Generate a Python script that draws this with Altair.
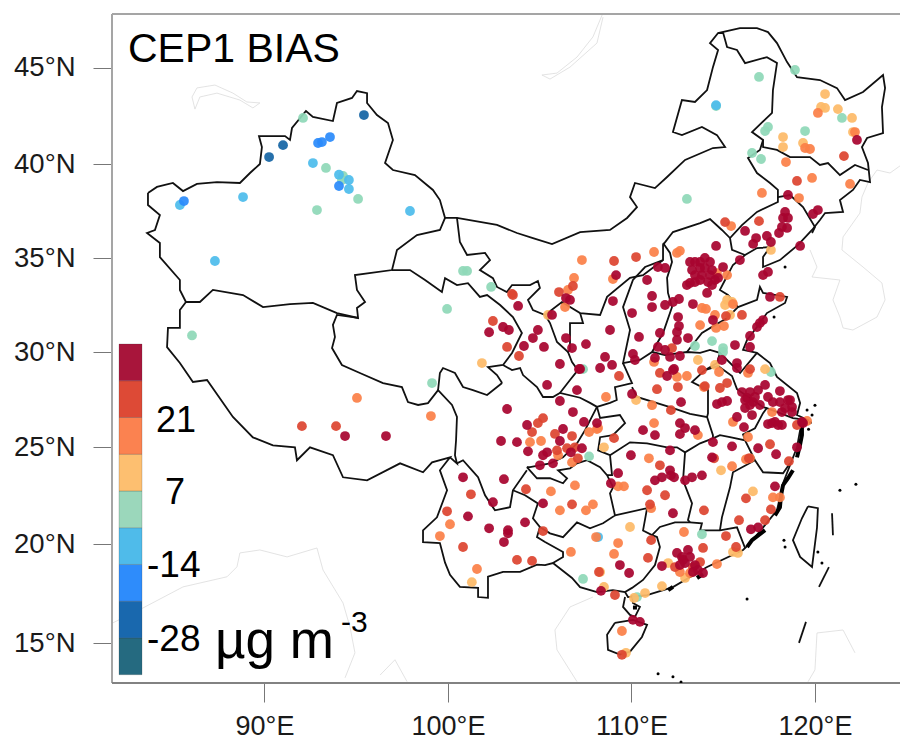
import altair as alt
import pandas as pd

FONT = "Liberation Sans"

navy = [(95.42,42.54),(91.01,40.98),(90.25,40.36)]
blue = [(93.57,41.4),(92.92,41.09),(93.13,41.14),(94.06,38.83),(85.61,38.03)]
sky = [(92.64,40.05),(94.06,39.43),(94.6,39.15),(94.6,38.67),(97.93,37.5),(85.39,37.82),(88.83,38.24),(87.3,34.84),(108.18,20.36),(114.61,43.05)]
green = [(92.1,42.39),(93.35,39.79),(94.28,39.37),(94.22,39.15),(95.1,38.14),(92.86,37.55),(100.82,34.31),(101.04,34.31),(102.35,33.46),(99.95,32.29),(86.05,30.88),(99.13,28.37),(107.69,24.53),(107.36,18.24),(113.84,20.5),(107.36,29.1),(110.3,17.33),(116.95,44.52),(118.91,44.88),(121.47,42.39),(117.44,41.92),(117.28,41.71),(119.46,41.71),(116.57,40.57),(117.06,40.26),(114.61,43.01),(113.02,38.14),(114.39,30.58),(113.46,30.32),(114.99,30.21),(114.99,30.0),(117.6,28.95)]
light = [(101.85,29.42),(108.5,25.0),(101.3,18.08),(109.92,20.88),(108.29,18.59),(108.5,17.84),(110.14,17.28),(110.74,17.53),(111.66,17.88),(109.7,14.52),(114.88,23.81),(116.62,22.72),(115.53,19.6),(115.8,19.55),(112.0,19.04),(112.92,18.29),(120.55,43.63),(120.33,42.96),(120.55,42.91),(121.25,42.85),(122.02,42.39),(122.07,41.66),(118.26,41.4),(118.26,40.88),(119.35,41.09),(117.6,35.43),(115.21,32.77),(115.1,32.5),(115.48,32.66),(115.37,31.97),(113.62,29.58),(114.55,29.32),(117.28,29.1),(110.25,27.48),(105.45,31.97)]
orange = [(95.04,27.59),(99.07,26.64),(100.11,21.02),(99.56,20.41),(101.58,18.74),(104.47,25.27),(105.07,25.33),(107.69,25.8),(108.18,26.01),(106.0,24.59),(106.76,24.22),(105.61,22.72),(106.92,23.03),(106.1,21.74),(107.52,21.74),(107.9,22.05),(106.7,19.6),(108.07,20.36),(109.27,20.05),(109.05,19.5),(109.48,15.62),(110.95,24.43),(109.27,22.98),(109.59,22.98),(111.07,21.85),(112.86,20.62),(115.48,24.02),(116.24,24.38),(116.35,25.54),(117.71,22.41),(118.09,22.41),(119.57,26.38),(112.64,18.59),(113.19,18.54),(114.66,18.99),(120.16,42.65),(122.18,41.66),(119.46,40.83),(119.73,40.78),(118.42,40.1),(119.84,39.26),(121.91,38.94),(117.11,38.46),(119.13,38.19),(115.43,36.7),(112.48,35.27),(112.64,35.38),(111.23,35.32),(107.3,34.89),(106.87,33.94),(106.54,33.3),(108.99,33.88),(106.38,32.39),(114.66,34.2),(115.21,34.09),(111.23,29.48),(112.48,28.69),(113.02,28.74),(108.61,27.64),(111.12,27.21),(111.23,26.27),(113.74,31.43),(113.84,32.34),(114.06,32.29),(114.55,31.97),(114.61,31.28),(115.04,31.38),(115.53,32.55),(114.77,28.95),(116.35,28.9),(113.95,28.16),(115.53,26.33),(117.66,26.85),(113.62,25.64),(116.46,24.43),(108.12,25.96)]
red = [(103.49,33.09),(102.45,31.65),(103.22,30.27),(103.87,29.79),(93.9,26.11),(92.04,26.11),(101.25,22.57),(99.95,21.69),(100.82,19.85),(105.18,26.53),(104.9,26.27),(104.58,25.8),(105.83,25.7),(106.76,25.59),(105.94,24.84),(106.49,24.95),(106.92,25.0),(107.08,24.43),(109.05,25.48),(104.25,22.83),(106.76,22.05),(105.18,20.67),(103.76,19.2),(104.58,19.15),(108.23,18.59),(109.1,17.43),(111.07,20.2),(110.9,19.3),(111.55,24.07),(110.85,22.78),(111.83,22.52),(111.01,22.05),(114.5,24.43),(116.4,24.43),(113.95,21.74),(116.24,22.36),(115.86,21.23),(117.6,21.79),(117.28,21.23),(117.55,25.16),(118.58,24.28),(119.02,26.17),(115.15,20.41),(113.9,19.8),(115.7,19.85),(112.37,18.84),(113.74,19.09),(113.35,18.84),(109.48,14.42),(121.58,40.41),(119.02,39.1),(116.95,36.96),(115.1,36.91),(110.25,35.05),(109.05,34.84),(106.81,33.51),(106.05,33.19),(103.54,33.03),(112.21,30.21),(109.32,28.74),(111.55,28.9),(112.53,28.16),(111.39,28.05),(112.15,26.95),(115.15,31.91),(116.02,31.97),(118.09,32.93),(113.84,29.05),(116.46,29.1),(114.0,28.21),(115.21,28.37),(114.82,28.11)]
dark = [(100.82,23.45),(102.24,20.81),(101.09,21.43),(102.45,22.16),(94.39,25.59),(96.62,25.59),(103.82,32.45),(103.0,31.33),(103.32,31.17),(102.24,31.05),(104.14,30.32),(104.63,30.74),(104.9,31.17),(105.23,30.27),(105.67,31.97),(106.43,32.87),(106.65,32.77),(106.43,30.74),(106.76,30.21),(107.52,30.42),(106.1,29.37),(107.2,29.11),(105.4,28.27),(107.03,28.0),(106.1,27.43),(103.22,27.01),(106.81,26.85),(107.41,26.33),(104.31,26.17),(108.12,26.27),(102.89,25.33),(103.76,25.27),(104.36,24.79),(106.27,25.96),(106.1,25.33),(106.7,24.74),(105.4,24.74),(105.18,24.59),(107.3,24.95),(105.01,24.07),(105.72,24.17),(103.05,23.35),(105.18,22.1),(104.2,21.12),(103.27,20.71),(103.27,20.55),(103.05,20.1),(108.88,23.14),(109.37,18.94),(109.87,18.54),(108.34,17.64),(111.66,18.89),(110.08,16.18),(110.46,16.08),(109.97,24.59),(109.27,23.66),(112.26,21.59),(111.28,23.29),(111.66,23.45),(112.1,23.81),(112.15,23.55),(112.32,23.45),(112.92,23.29),(112.1,24.84),(113.3,23.45),(113.84,23.55),(114.44,25.27),(115.48,25.05),(114.39,24.48),(117.82,22.98),(116.9,24.95),(117.88,24.64),(119.02,25.0),(119.29,26.33),(116.9,20.86),(116.51,20.76),(112.75,19.35),(113.08,19.7),(112.48,19.55),(112.92,19.04),(113.62,18.69),(113.35,18.59),(122.29,41.25),(120.16,37.55),(119.89,37.34),(118.53,38.35),(118.37,37.45),(118.26,37.13),(118.53,37.13),(118.2,36.65),(118.48,36.6),(118.04,36.33),(116.19,36.44),(116.79,36.06),(116.63,35.75),(117.38,36.17),(117.6,35.85),(119.19,35.64),(115.91,34.89),(114.61,35.64),(113.46,34.79),(114.0,35.0),(113.3,34.36),(113.74,34.47),(114.28,34.79),(113.84,34.09),(114.39,34.36),(114.17,33.72),(114.55,33.83),(114.72,33.94),(113.19,34.79),(114.99,34.52),(113.02,33.56),(113.19,33.67),(113.46,33.72),(114.12,33.14),(111.44,34.52),(111.83,34.47),(110.85,33.83),(109.16,34.09),(108.99,32.71),(111.12,32.98),(111.12,32.39),(111.83,32.5),(112.26,32.66),(112.59,32.82),(113.35,32.55),(110.03,32.07),(108.83,31.17),(110.41,30.8),(111.55,31.01),(112.54,31.86),(112.59,31.38),(112.48,31.06),(112.48,30.64),(113.08,30.74),(111.44,30.27),(111.83,30.11),(112.1,29.74),(112.64,29.79),(110.08,29.9),(110.19,29.58),(111.28,29.69),(108.56,29.74),(108.29,29.16),(108.94,29.32),(112.32,29.11),(111.94,28.74),(114.44,31.7),(115.64,30.37),(116.46,30.85),(116.46,30.27),(117.0,31.54),(117.17,31.7),(116.84,31.33),(117.55,32.93),(117.44,34.26),(117.17,34.09),(114.93,29.58),(115.75,29.42),(115.21,27.43),(114.93,27.37),(114.66,27.27),(112.26,29.05),(112.7,27.37),(110.03,27.8),(112.64,26.27),(112.92,26.01),(113.46,25.9),(112.64,25.69),(110.63,25.9),(111.28,25.64),(115.75,29.16),(116.02,27.9),(116.46,27.9),(116.9,28.0),(117.28,28.27),(116.3,27.59),(116.19,27.06),(116.57,26.69),(117.44,27.64),(117.71,27.37),(118.09,27.95),(118.09,27.37),(118.53,27.48),(118.75,27.11),(118.2,26.85),(118.75,26.85),(116.62,27.37),(115.75,26.59),(116.13,26.06),(117.44,26.22),(117.82,26.33),(118.2,26.17),(117.66,26.27),(117.99,26.17),(119.35,26.27),(107.14,29.1),(113.74,34.79),(114.0,34.47),(113.46,34.09),(114.28,34.09),(113.74,33.83),(114.39,33.56),(112.81,19.2),(112.64,18.94),(113.19,19.35),(113.46,18.94),(113.9,18.54),(116.73,27.64),(117.0,27.22),(118.37,27.06),(116.46,27.22),(116.19,27.48),(118.64,27.48)]

xinjiang = [(83.65,38.46),(84.14,38.78),(85.01,38.99),(85.56,38.56),(86.32,38.94),(87.41,39.04),(88.66,38.99),(89.21,39.52),(89.75,40.0),(89.86,40.88),(89.7,41.45),(91.12,41.45),(91.39,41.25),(91.5,41.87),(92.26,42.75),(92.64,42.44),(93.73,42.23),(93.95,43.17),(94.77,43.43),(95.04,43.79),(95.59,43.68),(95.59,43.17),(96.13,42.54),(96.73,42.13),(97.0,41.25),(96.57,40.05),(97.0,39.68),(98.2,39.41),(99.18,38.62),(99.56,38.08),(99.84,37.13),(99.56,36.49),(98.31,36.22),(97.22,35.43),(96.95,34.36),(94.93,34.09),(95.04,33.3),(95.48,32.66),(95.04,32.34),(95.1,31.81),(93.95,32.07),(92.64,32.61),(91.39,32.55),(89.92,32.39),(88.83,33.03),(87.19,33.3),(86.48,32.66),(85.72,32.66),(85.39,33.3),(85.39,33.83),(84.3,35.05),(84.3,35.8),(83.6,36.33),(84.03,36.49),(84.3,37.29),(83.65,37.82),(83.65,38.46)]
north_rim = [(99.84,37.13),(100.49,37.13),(102.67,36.76),(103.76,36.33),(104.63,36.06),(105.67,35.74),(107.2,36.38),(108.83,36.49),(109.76,37.13),(110.3,37.71),(109.92,38.24),(110.19,38.99),(111.28,38.72),(111.94,39.31),(112.92,40.21),(114.44,40.83),(115.1,40.88),(114.66,41.5),(113.84,41.92),(112.75,41.5),(112.26,41.66),(112.75,43.32),(113.46,43.22),(114.12,43.84),(114.44,45.03),(114.72,45.92),(114.28,46.28),(114.72,46.8),(115.91,47.06),(116.84,47.06),(117.44,46.85),(117.93,46.28),(118.48,45.29),(119.02,44.51),(120.27,44.36),(121.2,43.94),(121.64,43.32),(122.62,43.74),(123.71,44.62),(123.82,43.94),(123.65,42.96),(123.71,41.61),(122.84,41.35),(122.56,40.88),(122.89,40.05),(123.0,39.04),(122.45,39.15),(122.07,38.62),(121.36,38.08),(121.53,37.45),(120.55,37.39),(120.27,37.02),(119.84,36.49),(119.08,35.7),(118.09,34.89),(117.17,34.52),(117.17,35.05),(117.55,35.58),(116.84,35.53),(116.19,35.16),(115.53,34.63),(115.1,33.83),(114.82,33.3),(115.26,33.03),(115.8,32.39),(116.84,32.77),(117.0,33.46),(117.17,33.14),(118.48,32.93),(118.37,32.61),(117.38,32.07),(116.84,31.33),(116.3,30.64),(116.08,30.11),(116.84,29.95),(117.55,29.42),(117.93,28.69),(119.02,27.85),(119.19,27.32),(119.02,26.69),(119.62,26.43),(119.19,25.9),(119.02,25.0),(118.64,24.07),(118.26,23.14),(117.93,21.74),(116.46,20.03),(116.08,19.7),(114.12,18.84),(112.26,17.83),(110.85,17.43),(109.81,17.33),(109.65,17.58),(108.99,17.68),(108.12,17.58),(107.2,17.83),(106.76,18.29),(105.72,19.04),(105.29,18.94),(104.85,18.96),(103.93,18.6),(103.0,18.6),(102.18,18.35),(102.18,17.29),(101.64,17.33),(101.64,17.79),(100.65,17.84),(100.11,18.45),(99.84,19.06),(99.56,20.05),(98.64,20.1),(98.64,20.71),(99.4,21.38),(99.95,22.78),(99.56,23.81),(100.11,24.48),(99.13,24.22),(98.64,23.71),(97.39,24.17),(95.59,23.29),(94.28,23.45),(93.73,24.59),(92.48,25.0),(91.77,24.33),(91.66,25.0),(90.46,25.1),(89.37,25.52),(88.28,26.59),(86.87,28.53),(86.1,28.43),(85.39,29.42),(84.69,30.26),(84.74,31.28),(85.39,31.28),(85.39,32.23),(85.72,32.66)]
tibet_north = [(95.1,31.81),(93.95,31.97),(93.73,31.44),(93.84,30.8),(93.68,30.21),(94.22,29.32),(95.2,28.9),(96.46,28.37),(97.49,28.16),(97.82,27.37),(98.37,27.22),(98.91,27.32),(99.46,28.0),(100.22,27.22),(100.49,26.59),(100.44,25.37),(100.38,24.59),(100.49,24.17),(100.11,24.48)]
qinghai_south = [(99.46,28.0),(99.56,28.9),(99.73,29.16),(100.38,28.9),(100.82,28.16),(101.36,28.0),(102.13,27.74),(102.95,28.37)]
qinghai_north = [(96.95,34.36),(97.93,34.36),(98.75,33.83),(99.67,33.19),(99.84,33.93),(100.49,33.56),(101.09,33.66),(101.74,32.93),(102.13,33.03),(102.84,32.5),(103.54,31.86),(104.03,31.01),(103.49,29.95),(103.0,29.32),(102.18,29.21),(102.67,28.79),(102.95,28.37)]
gansu_north = [(100.49,37.13),(100.65,35.85),(101.04,35.16),(102.02,35.27),(102.29,34.89),(101.74,34.36),(102.45,33.93),(102.67,33.46),(103.21,33.19),(103.49,33.56),(104.47,33.56),(104.9,33.78),(105.01,33.41),(104.36,32.77),(104.63,32.23),(105.29,31.97),(106.21,32.66),(107.2,32.07),(108.29,31.97),(108.67,32.93),(109.92,33.94),(110.63,34.09),(111.72,34.89),(111.72,35.7),(112.26,36.38),(113.74,36.86),(114.28,37.07),(114.93,36.49),(115.37,36.06),(116.02,36.75),(116.84,37.45),(117.98,37.98),(117.98,38.62),(117.55,38.99),(116.84,39.52),(116.35,40.31),(117.0,40.73),(117.17,41.25),(116.57,41.66),(117.66,42.65),(117.71,43.84),(117.93,45.24),(117.38,45.55),(116.19,45.24),(115.75,45.92),(115.21,46.07),(115.0,46.8),(114.72,46.8)]
ningxia = [(105.29,31.97),(105.56,31.54),(105.94,30.53),(106.54,30.0),(106.65,30.11),(106.65,31.54),(107.36,31.54),(107.2,32.07)]
gansu_south = [(103.0,29.32),(103.49,29.05),(103.93,29.16),(104.09,28.79),(104.85,28.16),(105.18,27.64),(105.72,27.64),(106.1,27.85),(107.2,27.6),(107.74,27.33),(108.12,27.12)]
gansu_tail = [(106.54,30.0),(106.76,29.47),(107.08,29.05),(106.65,28.53),(106.1,27.85)]
sichuan_yunnan = [(100.49,24.17),(100.82,24.33),(101.31,23.81),(101.64,23.45),(102.02,22.52),(102.56,21.74),(103.38,21.9),(103.54,22.78),(104.3,23.81)]
chongqing = [(108.12,27.12),(107.47,25.9),(107.03,25.2),(106.27,24.48),(105.56,24.17),(104.47,23.97),(104.3,23.97)]
guizhou = [(104.3,23.97),(104.85,23.4),(105.56,23.4),(106.27,23.14),(106.49,23.4),(106.0,23.81),(106.65,23.91),(107.03,24.17),(107.58,24.33),(108.29,23.97),(108.67,23.56),(109.0,22.93),(108.83,22.62),(109.1,21.48),(108.45,21.07),(107.74,20.81),(107.03,21.12),(106.27,20.35),(105.56,20.55),(105.01,20.88),(104.63,21.33),(104.9,22.1),(104.2,22.52),(103.54,22.78)]
yunnan_guangxi = [(105.01,20.88),(104.85,20.36),(105.29,20.1),(106.27,19.6),(106.27,19.35),(105.72,19.04)]
guangxi_top = [(109.1,21.48),(110.85,21.85),(110.63,20.7),(111.12,20.46),(111.55,20.88),(112.37,21.12),(113.19,21.12),(113.84,21.07),(113.74,20.7),(114.82,20.7),(115.75,20.86),(116.19,19.8)]
guangxi_east = [(111.12,20.46),(111.39,20.36),(111.55,19.85),(111.28,18.94),(110.63,18.19),(110.03,17.79),(109.65,17.58)]
shaanxi_east = [(109.54,29.42),(110.03,28.37),(109.1,28.16),(109.2,27.48),(108.83,27.33),(108.12,27.12),(108.29,26.54),(109.37,26.69),(109.65,26.27),(108.99,25.64),(108.29,25.53),(108.18,24.84),(108.83,24.59),(108.94,23.56),(108.67,23.56)]
hunan_north = [(108.83,24.59),(109.92,25.26),(110.85,25.21),(111.94,25.0),(112.48,25.0),(112.92,24.74),(113.74,25.21),(114.44,25.47),(114.82,25.64),(115.37,25.53),(116.19,25.37),(116.73,24.33),(117.17,23.71),(118.26,23.66),(118.64,24.17)]
hunan_east = [(112.92,24.74),(112.81,23.29),(113.3,22.1),(113.08,21.24),(113.19,21.12)]
jiangxi_east = [(116.73,24.33),(115.53,23.71),(115.37,22.93),(114.93,21.38),(114.82,20.7)]
hubei_north = [(110.03,28.16),(110.3,27.64),(112.1,27.11),(113.19,26.75),(114.12,26.59),(114.44,25.64),(114.44,25.47)]
shanxi = [(111.72,34.89),(110.74,34.52),(110.08,33.83),(109.54,32.39),(109.92,31.17),(109.54,29.42),(110.46,29.58),(111.12,30.0),(111.72,31.01),(112.21,32.39),(111.99,33.14),(111.94,33.94),(112.21,34.79),(112.1,35.27),(111.72,35.8)]
henan_east = [(111.12,30.0),(111.83,29.84),(113.02,30.0),(113.74,29.95),(114.28,30.11),(114.82,29.95),(114.66,29.42),(114.0,29.05),(113.3,28.42),(114.17,28.0),(114.17,26.78),(114.12,26.59)]
hebei_shandong = [(113.02,30.0),(113.84,31.01),(114.55,31.43),(115.2,31.8),(115.8,32.39)]
jiangsu = [(114.82,29.95),(115.92,28.9),(116.84,29.95)]
anhui = [(114.0,29.05),(114.72,29.26),(115.48,28.74),(115.75,28.05),(117.17,27.11),(117.38,27.06),(118.8,26.53),(119.62,26.43)]
anhui_south = [(117.38,27.06),(117.17,26.79),(116.73,26.0),(116.08,25.68),(116.19,25.37)]
liaoning_west = [(115.37,36.06),(115.48,35.43),(116.19,35.16)]
liaoning_east = [(117.98,38.24),(118.64,38.35),(119.35,37.71),(120.0,36.65),(119.84,36.33)]
jilin_north = [(117.17,41.25),(117.17,40.88),(117.93,40.73),(118.64,40.36),(119.73,40.36),(120.27,39.95),(120.71,40.05),(121.36,39.41),(122.18,39.95),(122.89,39.68)]
taiwan = [(119.62,21.95),(120.16,21.85),(120.11,20.84),(119.84,18.84),(119.19,19.35),(118.8,20.2),(119.29,21.33),(119.62,21.95)]
hainan = [(109.1,16.03),(108.67,15.43),(108.72,14.67),(109.37,14.43),(109.92,14.58),(110.57,15.32),(110.85,15.93),(110.08,16.18),(109.1,16.03)]
leizhou = [(109.65,17.33),(109.54,16.83),(109.92,16.43),(110.19,16.33),(110.46,16.83),(110.08,17.03),(110.03,17.43)]
dash_a = [(120.93,21.59),(120.98,20.45)]
dash_b = [(120.76,18.84),(120.22,17.84)]
dash_c = [(119.51,16.08),(119.13,15.02)]

black_lines = [xinjiang,north_rim,tibet_north,qinghai_south,qinghai_north,gansu_north,ningxia,gansu_south,gansu_tail,sichuan_yunnan,chongqing,guizhou,yunnan_guangxi,guangxi_top,guangxi_east,shaanxi_east,hunan_north,hunan_east,jiangxi_east,hubei_north,shanxi,henan_east,hebei_shandong,jiangsu,anhui,anhui_south,liaoning_west,liaoning_east,jilin_north,taiwan,hainan,leizhou,dash_a,dash_b,dash_c]

balkhash = [(86.05,43.48),(86.32,43.95),(87.3,44.1),(88.28,43.68),(89.04,43.22),(89.75,43.17),(89.37,42.91),(88.66,43.32),(87.41,43.68),(86.48,43.48),(86.21,42.85),(86.05,43.48)]
baikal = [(108.4,47.74),(107.9,46.6),(107.03,45.55),(105.94,44.72),(105.12,44.62),(105.56,44.41),(106.65,45.03),(108.12,46.28),(108.45,47.63)]
korea = [(125.07,40.2),(124.09,39.52),(123.38,39.68),(122.89,39.0),(122.56,38.24),(122.45,37.39),(121.53,36.12),(121.47,35.43),(122.62,34.52),(123.65,33.67),(123.82,32.77),(123.38,31.86),(122.07,31.17),(121.53,31.28),(121.36,31.86),(120.98,32.77),(121.36,33.83),(119.84,33.99),(120.11,34.52),(119.73,35.43)]
india = [(81.74,16.03),(83.38,16.78),(85.56,17.84),(87.96,18.35),(88.5,18.85),(88.66,19.55),(89.75,19.7),(91.23,19.35),(92.86,19.8),(93.19,18.69),(94.28,17.03),(94.66,15.82),(94.93,14.52),(94.39,13.26)]
burma = [(96.3,13.4),(97.11,14.17),(97.77,13.07)]
vietnam = [(107.9,17.33),(106.65,16.83),(105.83,15.67),(105.94,14.67),(107.03,13.07)]
philippines = [(122.18,14.52),(121.53,15.67),(120.11,15.52),(120.0,13.66),(119.62,13.06)]
grey_lines = [balkhash,baikal,korea,india,burma,vietnam,philippines]

# thick black runs of small islands along the coast, and separate islets
coast_runs = [[(119.29,26.1),(119.29,25.64),(119.18,25.11),(119.02,24.48)],[(118.8,23.81),(118.53,23.4),(118.26,23.04),(118.15,22.52),(118.09,21.9),(117.82,21.48)],[(117.28,20.72),(116.57,20.2),(116.3,19.85)],[(113.57,18.29),(113.9,18.49)],[(112.26,17.84),(112.0,17.68)],[(110.19,16.9),(110.19,16.7)]]
islets = [(119.57,26.96),(119.84,26.69),(120.0,27.2),(119.75,26.3),(119.65,25.95),(121.36,22.78),(122.23,23.09),(118.31,20.2),(118.37,19.85),(120.16,19.6),(120.38,19.04),(111.45,13.46),(112.26,13.31),(112.7,13.05),(118.37,34.52),(117.77,31.86),(116.3,17.23)]

classes = ["navy","blue","sky","green","light","orange","red","dark"]
point_colors = ["#1565a5","#2b8bfb","#4dbcec","#8fd8b8","#fdba68","#fb8048","#dd4530","#a8042f"]
bar_colors = ["#256a80","#1968ae","#2e8cfb","#4fbbea","#9bd7bb","#fdbf70","#fb8250","#dd4a36","#a8153b"]
y_ticks = [15,20,25,30,35,40,45]
x_ticks = [90,100,110,120]

def lines_frame(groups):
    rows = []
    for g, path in enumerate(groups):
        for i, (lon, lat) in enumerate(path):
            rows.append({"lon": lon, "lat": lat, "seg": g, "i": i})
    return pd.DataFrame(rows)

points_df = pd.DataFrame(
    [{"lon": p[0], "lat": p[1], "cls": c}
     for c, pts in zip(["green","sky","blue","navy","light","orange","red","dark"],
                       [green, sky, blue, navy, light, orange, red, dark])
     for p in pts])
islets_df = pd.DataFrame(islets, columns=["lon","lat"])
bar_df = pd.DataFrame({"a": list(range(9)), "b": list(range(1,10)), "c": bar_colors})

xs = alt.Scale(domain=[81.69,125.07], range=[0,796], nice=False, zero=False)
ys = alt.Scale(domain=[13.0,15,20,25,30,35,40,45,47.79],
               range=[669,629.3,530,433.3,338,244,150,53.7,0], nice=False, zero=False)
x_axis = alt.Axis(values=x_ticks, labelExpr="datum.value + '°E'", title=None, grid=False, domain=False,
                  tickSize=19, tickColor="#777777", labelFontSize=27, labelPadding=11, labelFont=FONT,
                  labelColor="#1a1a1a")
y_axis = alt.Axis(values=y_ticks, labelExpr="datum.value + '°N'", title=None, grid=False, domain=False,
                  tickSize=19, tickColor="#777777", labelFontSize=27.5, labelPadding=18, labelFont=FONT,
                  labelColor="#1a1a1a")
X = alt.X("lon:Q", scale=xs, axis=x_axis)
Yq = alt.Y("lat:Q", scale=ys, axis=None)

frame_df = pd.DataFrame({"k": ["top","left","bottom"]})
top_edge = alt.Chart(frame_df).mark_rule(color="#a5a5a5", strokeWidth=2).encode(x=alt.value(0), x2=alt.value(788), y=alt.value(0))
left_edge = alt.Chart(frame_df).mark_rule(color="#a5a5a5", strokeWidth=2).encode(x=alt.value(0), y=alt.value(0), y2=alt.value(669))
bottom_edge = alt.Chart(frame_df).mark_rule(color="#808080", strokeWidth=1.6).encode(x=alt.value(0), x2=alt.value(788), y=alt.value(669))

grey = alt.Chart(lines_frame(grey_lines)).mark_line(color="#dcdcdc", strokeWidth=0.8, clip=True).encode(
    x=X, y=alt.Y("lat:Q", scale=ys, axis=y_axis), detail="seg:N", order="i:Q")
black = alt.Chart(lines_frame(black_lines)).mark_line(color="#111111", strokeWidth=1.8, clip=True).encode(
    x=X, y=Yq, detail="seg:N", order="i:Q")
runs = alt.Chart(lines_frame(coast_runs)).mark_line(color="#000000", strokeWidth=4, clip=True).encode(
    x=X, y=Yq, detail="seg:N", order="i:Q")
isl = alt.Chart(islets_df).mark_circle(color="#000000", size=9, opacity=1, clip=True).encode(x=X, y=Yq)
dots = alt.Chart(points_df).mark_circle(size=96, opacity=0.93, clip=True).encode(
    x=X, y=Yq,
    color=alt.Color("cls:N", scale=alt.Scale(domain=classes, range=point_colors), legend=None),
    order=alt.Order("idx:Q")).transform_window(idx="row_number()")
bar = alt.Chart(bar_df).mark_rect(stroke="#333333", strokeWidth=0.6, strokeOpacity=0.35).encode(
    x=alt.value(7), x2=alt.value(30),
    y=alt.Y("a:Q", scale=alt.Scale(domain=[0,9], range=[660.7,330], nice=False, zero=False), axis=None),
    y2="b:Q", color=alt.Color("c:N", scale=None, legend=None))

def label(txt, px, py, size):
    return alt.Chart(pd.DataFrame({"t":[txt]})).mark_text(
        font=FONT, fontSize=size, align="left", baseline="alphabetic", color="#000000").encode(
        x=alt.value(px), y=alt.value(py), text="t:N")

chart = alt.layer(
    grey, top_edge, left_edge, bottom_edge, black, runs, isl, dots, bar,
    label("CEP1 BIAS", 16, 48, 41),
    label("21", 44, 418, 36),
    label("7", 53, 490, 36),
    label("-14", 35, 563, 37),
    label("-28", 35, 637, 37),
    label("µg m", 103, 644, 53),
    label("-3", 229, 618, 30),
).resolve_scale(y="independent", color="independent").properties(
    width=788, height=669,
    padding={"left":104,"top":6,"right":0,"bottom":54},
    autosize=alt.AutoSizeParams(type="none"),
).configure_view(stroke=None)

chart.save("out.html", embed_options={"renderer": "svg", "actions": False})
